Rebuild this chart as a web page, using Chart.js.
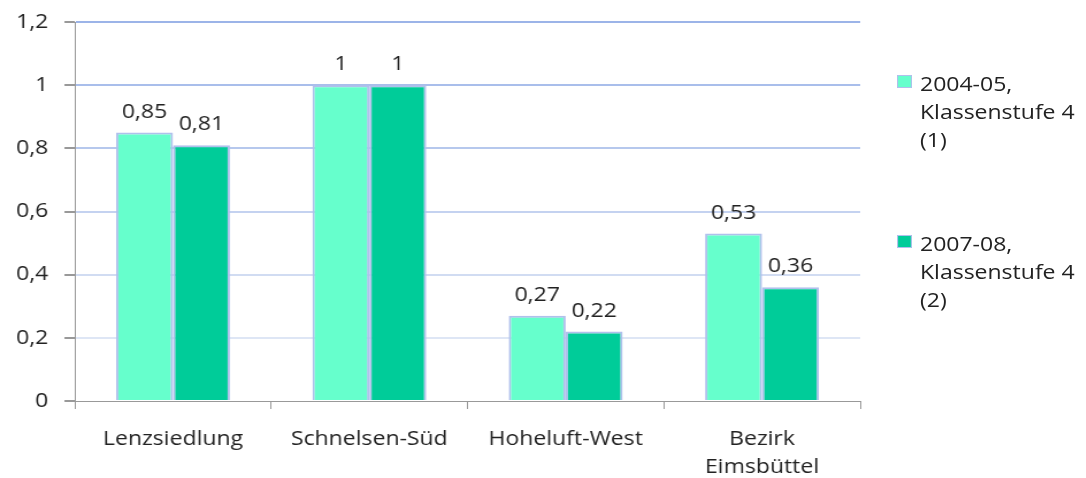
<!DOCTYPE html>
<html>
<head>
<meta charset="utf-8">
<script src="https://cdn.jsdelivr.net/npm/chart.js@4"></script>
<style>
  html, body { margin: 0; padding: 0; background: #fff; overflow: hidden; }
  /* the original picture is slightly stretched horizontally */
  #wrap { position: relative; width: 944px; height: 478px; transform: scaleX(1.15); transform-origin: 0 0; }
  #legend { position: absolute; left: 780px; top: 70px; font-family: "Open Sans", sans-serif; font-size: 20px; line-height: 28px; color: #222; }
  .item { position: relative; padding-left: 20px; }
  .item + .item { margin-top: 76px; }
  .swatch { position: absolute; left: 0; top: 5px; width: 11px; height: 11px; border: 1px solid #b0c0ec; }
</style>
</head>
<body>
<div id="wrap">
  <canvas id="chart" width="944" height="478"></canvas>
  <div id="legend"></div>
</div>
<script>
const categories = ["Lenzsiedlung", "Schnelsen-Süd", "Hoheluft-West", ["Bezirk", "Eimsbüttel"]];
const seriesNames = [["2004-05,", "Klassenstufe 4", "(1)"], ["2007-08,", "Klassenstufe 4", "(2)"]];
const values0405 = [0.85, 1, 0.27, 0.53];
const values0708 = [0.81, 1, 0.22, 0.36];
const yTicks = [0, 0.2, 0.4, 0.6, 0.8, 1, 1.2];

const colors = ["#66ffcc", "#00cc99"];
const fmt = v => String(v).replace(".", ",");

// grid lines fade from blue at the top to pale at the bottom
function gridColor(c) {
    const v = c.tick ? c.tick.value : 0;
    if (v === 0) return "rgba(0,0,0,0)";
    const t = (v - 0.2) / 1.0;
    const r = Math.round(222 - t * (222 - 156));
    const g = Math.round(230 - t * (230 - 180));
    const b = Math.round(245 - t * (245 - 232));
    return `rgb(${r},${g},${b})`;
}

// value labels above each bar
const valueLabels = {
    id: "valueLabels",
    afterDatasetsDraw(chart) {
        const ctx = chart.ctx;
        ctx.save();
        ctx.font = "20px 'Open Sans', sans-serif";
        ctx.fillStyle = "#222";
        ctx.textAlign = "center";
        ctx.textBaseline = "alphabetic";
        chart.data.datasets.forEach((ds, i) => {
            chart.getDatasetMeta(i).data.forEach((bar, j) => {
                ctx.fillText(fmt(ds.data[j]), bar.x, bar.y - 15);
            });
        });
        ctx.restore();
    }
};

new Chart(document.getElementById("chart"), {
    type: "bar",
    data: {
        labels: categories,
        datasets: [
            { label: seriesNames[0].join(" "), data: values0405, backgroundColor: colors[0], borderColor: "#b0c0ec", borderWidth: 2 },
            { label: seriesNames[1].join(" "), data: values0708, backgroundColor: colors[1], borderColor: "#b0c0ec", borderWidth: 2 }
        ]
    },
    options: {
        responsive: false,
        animation: false,
        layout: { padding: { top: 2, right: 196, left: 0, bottom: 0 } },
        datasets: { bar: { categoryPercentage: 0.58, barPercentage: 1 } },
        plugins: { legend: { display: false }, tooltip: { enabled: false } },
        scales: {
            x: {
                afterFit: axis => { axis.height = 77; },
                grid: { offset: true, drawOnChartArea: false, drawTicks: true, tickLength: 8, color: "#999" },
                border: { color: "#999", width: 1 },
                ticks: { color: "#222", font: { family: "Open Sans", size: 20, lineHeight: 1.4 }, padding: 16 }
            },
            y: {
                min: 0,
                max: 1.2,
                afterBuildTicks: axis => { axis.ticks = yTicks.map(v => ({ value: v })); },
                grid: { color: gridColor, tickColor: "#999", tickLength: 9, lineWidth: 2 },
                border: { color: "#999", width: 1 },
                ticks: { color: "#222", font: { family: "Open Sans", size: 20, lineHeight: 0.8 }, padding: 14, callback: v => fmt(v) }
            }
        }
    },
    plugins: [valueLabels]
});

const legendEl = document.getElementById("legend");
seriesNames.forEach((lines, i) => {
    const item = document.createElement("div");
    item.className = "item";
    item.innerHTML = `<span class="swatch" style="background:${colors[i]}"></span>` + lines.join("<br>");
    legendEl.appendChild(item);
});
</script>
</body>
</html>
